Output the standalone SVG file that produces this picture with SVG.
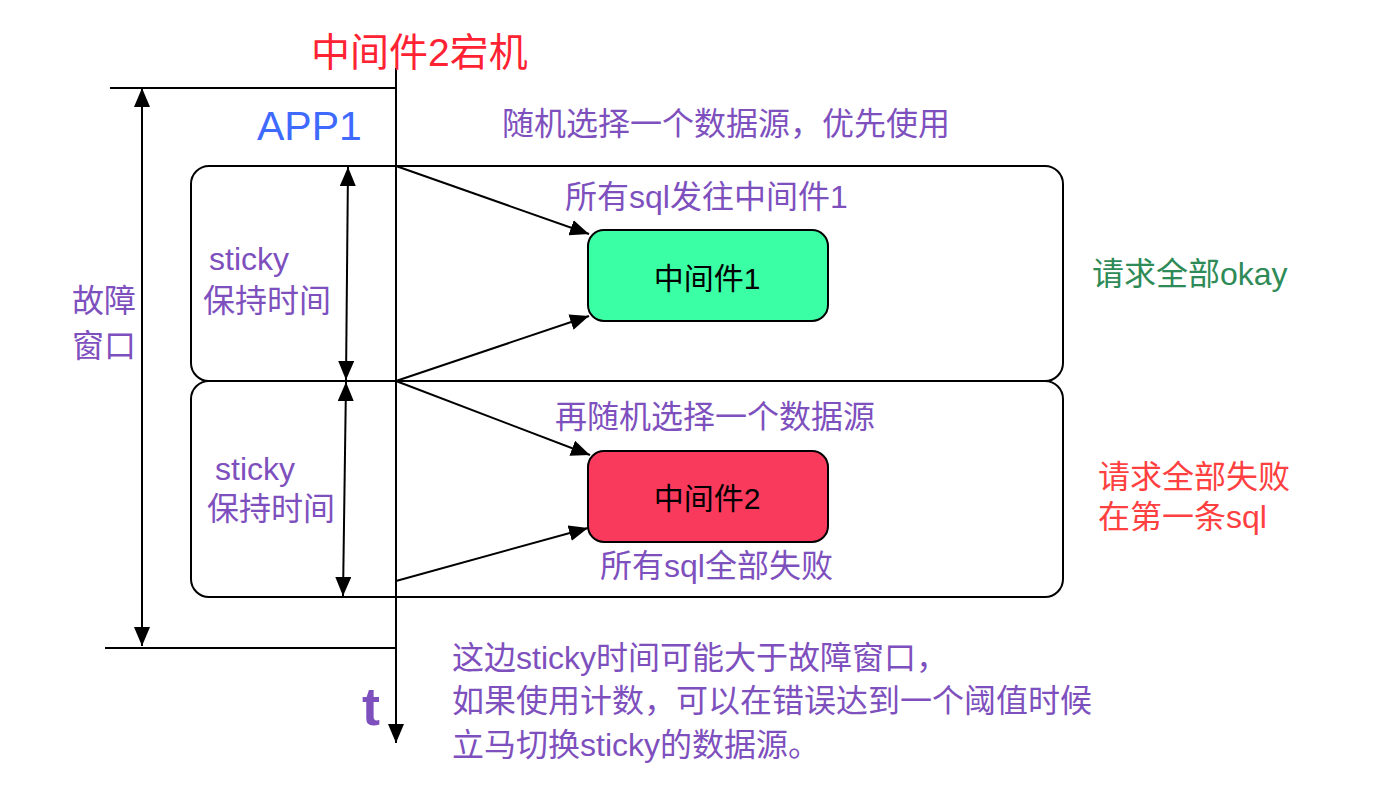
<svg xmlns="http://www.w3.org/2000/svg" width="1390" height="786" viewBox="0 0 1390 786">
<defs>
<marker id="ah" markerUnits="userSpaceOnUse" markerWidth="20" markerHeight="16" refX="19" refY="8" orient="auto-start-reverse" viewBox="0 0 20 16">
<path d="M0,0 L19,8 L0,16 Z" fill="#000"/>
</marker>
<style>
.t{font-family:"Liberation Sans","Noto Sans CJK SC",sans-serif;}
.p{fill:#7E50BE;font-size:32px;}
.ln{stroke:#000;stroke-width:2;fill:none;}
.box{stroke:#000;stroke-width:2;fill:none;}
.node{stroke:#000;stroke-width:2;}
</style>
</defs>
<rect width="1390" height="786" fill="#fff"/>

<g id="boxes">
<rect id="phase1" class="box" x="191" y="166" width="872" height="215" rx="18"/>
<rect id="phase2" class="box" x="191" y="381" width="872" height="216" rx="18"/>
</g>

<g id="node1">
<rect class="node" x="588" y="230" width="240" height="91" rx="16" fill="#3BFFA5"/>
<text class="t" x="707" y="289" font-size="30" text-anchor="middle" fill="#000">中间件1</text>
</g>
<g id="node2">
<rect class="node" x="588" y="451" width="240" height="91" rx="16" fill="#F93A5D"/>
<text class="t" x="707" y="509" font-size="30" text-anchor="middle" fill="#000">中间件2</text>
</g>

<g id="connectors">
<line class="ln" x1="396" y1="68" x2="396" y2="743" marker-end="url(#ah)"/>
<line class="ln" x1="110" y1="88" x2="396" y2="88"/>
<line class="ln" x1="105" y1="648" x2="396" y2="648"/>
<line class="ln" x1="142" y1="88" x2="142" y2="646" marker-start="url(#ah)" marker-end="url(#ah)"/>
<line class="ln" x1="348" y1="167" x2="346" y2="380" marker-start="url(#ah)" marker-end="url(#ah)"/>
<line class="ln" x1="346" y1="382" x2="343" y2="596" marker-start="url(#ah)" marker-end="url(#ah)"/>
<line class="ln" x1="396" y1="166" x2="589" y2="234" marker-end="url(#ah)"/>
<line class="ln" x1="396" y1="381" x2="589" y2="316" marker-end="url(#ah)"/>
<line class="ln" x1="396" y1="381" x2="590" y2="455" marker-end="url(#ah)"/>
<line class="ln" x1="396" y1="581" x2="588" y2="528" marker-end="url(#ah)"/>
</g>

<g id="labels">
<text class="t" x="311" y="66" font-size="39" fill="#FF2233">中间件2宕机</text>
<text class="t" x="257" y="140" font-size="41" fill="#3E6AFF">APP1</text>
<text class="t p" x="502" y="135">随机选择一个数据源，优先使用</text>
<text class="t p" x="565" y="208">所有sql发往中间件1</text>
<text class="t p" x="209" y="270">sticky</text>
<text class="t p" x="203" y="312">保持时间</text>
<text class="t p" x="72" y="312">故障</text>
<text class="t p" x="72" y="357">窗口</text>
<text class="t p" x="215" y="480">sticky</text>
<text class="t p" x="207" y="520">保持时间</text>
<text class="t p" x="555" y="428">再随机选择一个数据源</text>
<text class="t p" x="600" y="577">所有sql全部失败</text>
<text class="t" x="1092" y="285" font-size="32" fill="#2E8B57">请求全部okay</text>
<text class="t" x="1098" y="488" font-size="32" fill="#FF4040">请求全部失败</text>
<text class="t" x="1098" y="528" font-size="32" fill="#FF4040">在第一条sql</text>
<text class="t p" x="452" y="669">这边sticky时间可能大于故障窗口，</text>
<text class="t p" x="452" y="712">如果使用计数，可以在错误达到一个阈值时候</text>
<text class="t p" x="452" y="756">立马切换sticky的数据源。</text>
<text class="t" x="362" y="725" font-size="54" font-weight="bold" fill="#7E50BE">t</text>
</g>
</svg>
